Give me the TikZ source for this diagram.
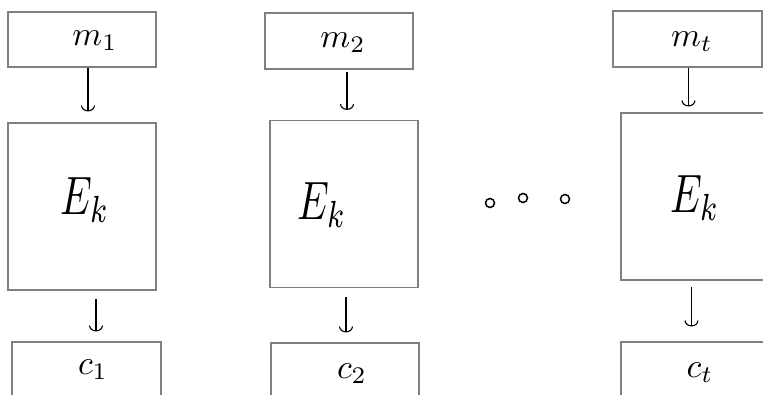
\documentclass[tikz,border=0pt]{standalone}
\usepackage{graphicx}
\usetikzlibrary{arrows.meta}
\newcommand{\mlab}[1]{\scalebox{3.4}{$#1$}}
\newcommand{\elab}[1]{\scalebox{4}[5.4]{$#1$}}
\begin{document}
\begin{tikzpicture}[x=1pt,y=-1pt,
  box/.style={draw=black!50,line width=1.1pt,inner sep=0pt},
  lab/.style={inner sep=0pt},
  arr/.style={line width=1.1pt,-{Arc Barb[length=6pt,width=14pt,line width=1.1pt]}},
  dot/.style={circle,draw,line width=1.5pt,minimum size=9pt,inner sep=0pt}]
\useasboundingbox (0,0) rectangle (763,395);
\clip (0,0) rectangle (763,395);
% column 1
\node[box,minimum width=148pt,minimum height=55pt] (m1) at (82,39.5) {};
\node[box,minimum width=148pt,minimum height=167pt] (E1) at (82,206.5) {};
\node[box,minimum width=149pt,minimum height=70pt] (c1) at (86.5,377) {};
\node[lab] (lm1) at (95,41) {\mlab{m_1}};
\node[lab] (lE1) at (85,200) {\elab{E_k}};
\node[lab] (lc1) at (93,370) {\mlab{c_1}};
% column 2
\node[box,minimum width=148pt,minimum height=56pt] (m2) at (339,41) {};
\node[box,minimum width=148pt,minimum height=167pt] (E2) at (344,204) {};
\node[box,minimum width=148pt,minimum height=70pt] (c2) at (345,378) {};
\node[lab] (lm2) at (343,43) {\mlab{m_2}};
\node[lab] (lE2) at (322,205) {\elab{E_k}};
\node[lab] (lc2) at (352,374) {\mlab{c_2}};
% column 3
\node[box,minimum width=149pt,minimum height=56pt] (mt) at (687.5,39) {};
\node[box,minimum width=145pt,minimum height=167pt] (E3) at (693.5,196.5) {};
\node[box,minimum width=145pt,minimum height=70pt] (ct) at (693.5,377) {};
\node[lab] (lmt) at (692,42) {\mlab{m_t}};
\node[lab] (lE3) at (695,198) {\elab{E_k}};
\node[lab] (lct) at (700,373) {\mlab{c_t}};
% dots
\node[dot] (d1) at (490,203) {};
\node[dot] (d2) at (523,198) {};
\node[dot] (d3) at (565,199) {};
% arrows
\draw[arr] ([xshift=6pt]m1.south) -- ([xshift=6pt,yshift=11pt]E1.north);
\draw[arr] ([xshift=14pt,yshift=-8pt]E1.south) -- ([xshift=9.5pt,yshift=10pt]c1.north);
\draw[arr] ([xshift=8pt,yshift=-2pt]m2.south) -- ([xshift=3pt,yshift=10pt]E2.north);
\draw[arr] ([xshift=2pt,yshift=-9pt]E2.south) -- ([xshift=1pt,yshift=10pt]c2.north);
\draw[arr] ([xshift=1pt]mt.south) -- ([xshift=-5pt,yshift=6pt]E3.north);
\draw[arr] ([xshift=-2pt,yshift=-6pt]E3.south) -- ([xshift=-2pt,yshift=15pt]ct.north);
\end{tikzpicture}
\end{document}
